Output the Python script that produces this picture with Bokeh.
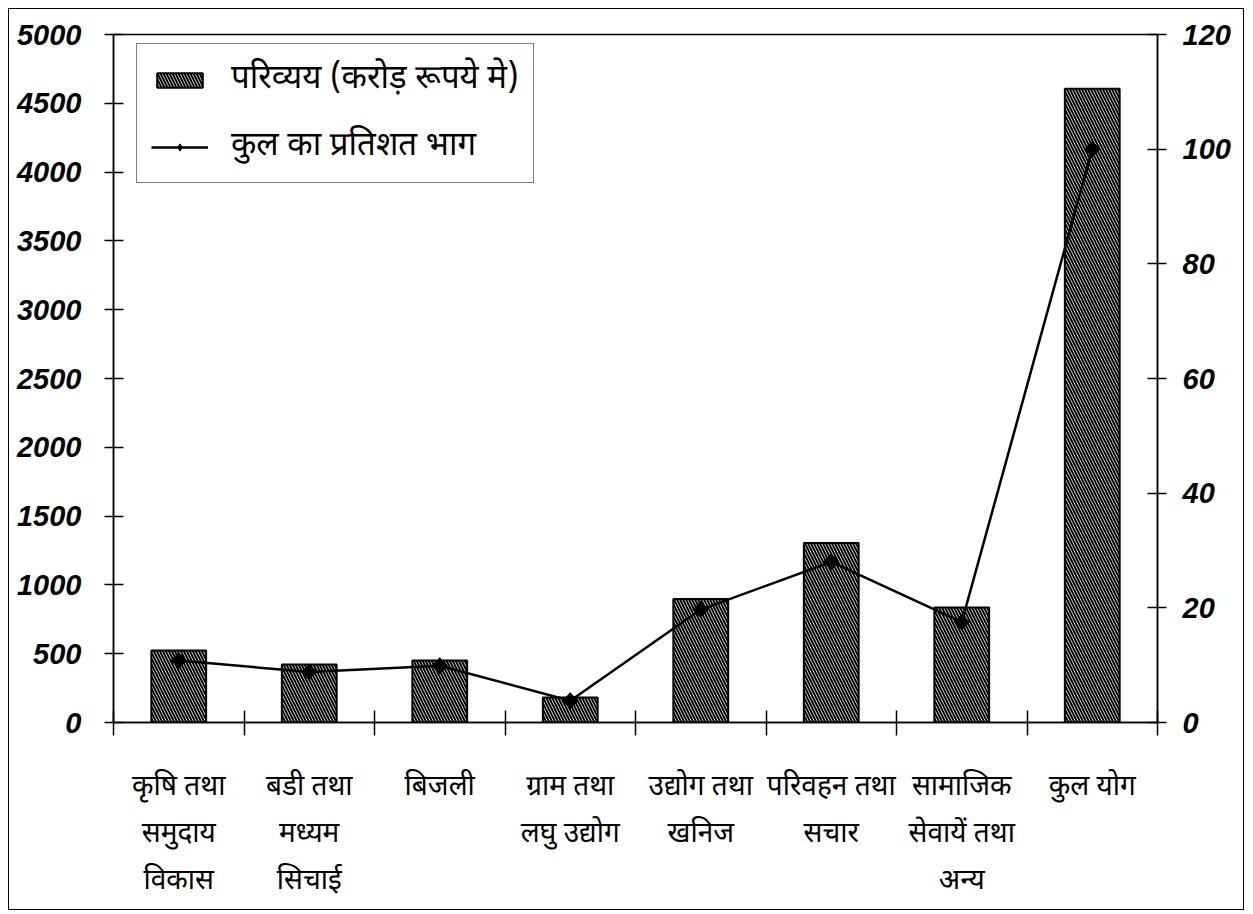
from bokeh.plotting import figure
from bokeh.models import Range1d, LinearAxis, FixedTicker, InlineStyleSheet
from bokeh.embed import file_html
from bokeh.resources import INLINE

# ---- data ----
categories = [
    "कृषि तथा\nसमुदाय\nविकास",
    "बडी तथा\nमध्यम\nसिचाई",
    "बिजली",
    "ग्राम तथा\nलघु उद्योग",
    "उद्योग तथा\nखनिज",
    "परिवहन तथा\nसचार",
    "सामाजिक\nसेवायें तथा\nअन्य",
    "कुल योग",
]
outlay = [523, 421, 450, 182, 898, 1305, 836, 4605]
percent = [10.8, 8.8, 9.9, 3.8, 19.7, 28.0, 17.5, 100.0]
left_ticks = [0, 500, 1000, 1500, 2000, 2500, 3000, 3500, 4000, 4500, 5000]
right_ticks = [0, 20, 40, 60, 80, 100, 120]
bar_label = "परिव्यय (करोड़ रूपये मे)"
line_label = "कुल का प्रतिशत भाग"

W, H = 1253, 914
BL, BR, BT, BB = 113, 96, 34, 192
frame_h = H - BT - BB
ymax = left_ticks[-1]
n = len(categories)
xs = [i + 0.5 for i in range(n)]
bounds = list(range(n + 1))

dev_font = "Noto Sans Devanagari, Lohit Devanagari, Noto Sans, sans-serif"
num_font = "Liberation Sans"

p = figure(width=W, height=H, output_backend="svg", toolbar_location=None,
           title=None,
           x_range=Range1d(0, n), y_range=Range1d(0, ymax),
           min_border_left=BL, min_border_right=BR,
           min_border_top=BT, min_border_bottom=BB)
p.extra_y_ranges = {"pct": Range1d(0, right_ticks[-1])}
p.xgrid.visible = False
p.ygrid.visible = False
p.outline_line_color = "black"
p.outline_line_width = 1.5
p.background_fill_color = "white"
p.border_fill_color = "white"

# outer border of the whole chart (drawn by CSS over the canvas)
p.stylesheets = [InlineStyleSheet(css="""
:host { position: relative; }
:host::after {
  content: ""; position: absolute; left: 8px; top: 8px; right: 9px; bottom: 4px;
  border: 1.5px solid black; pointer-events: none; z-index: 1000;
}
""")]

# bars
p.vbar(x=xs, top=outlay, width=0.42, bottom=0,
       fill_color="white", line_color="black", line_width=2,
       hatch_pattern="\\", hatch_color="black", hatch_scale=6,
       hatch_weight=2, legend_label=bar_label)

# line + markers
p.line(x=xs, y=percent, y_range_name="pct", line_color="black",
       line_width=2.5, legend_label=line_label)
p.scatter(x=xs, y=percent, y_range_name="pct", marker="square", angle=0.785,
          size=11, fill_color="black", line_color="black")
p.scatter(x=xs, y=percent, y_range_name="pct", marker="diamond",
          size=16, fill_color="black", line_color="black",
          legend_label=line_label)

def style_num_axis(ax, standoff):
    ax.axis_line_width = 1.5
    ax.major_tick_in = 10
    ax.major_tick_out = 9
    ax.major_tick_line_width = 1.5
    ax.minor_tick_line_color = None
    ax.major_label_standoff = standoff
    ax.major_label_text_font = num_font
    ax.major_label_text_font_style = "bold italic"
    ax.major_label_text_font_size = "29px"
    ax.major_label_text_color = "black"

ya = p.yaxis[0]
ya.ticker = FixedTicker(ticks=left_ticks)
style_num_axis(ya, 23)

ra = LinearAxis(y_range_name="pct", ticker=FixedTicker(ticks=right_ticks))
style_num_axis(ra, 16)
p.add_layout(ra, "right")

# bottom axis: labels at category centres, tick marks at category boundaries
xa = p.xaxis[0]
xa.ticker = FixedTicker(ticks=xs, minor_ticks=bounds)
xa.major_label_overrides = {x: c for x, c in zip(xs, categories)}
xa.axis_line_width = 1.5
xa.major_tick_line_color = None
xa.major_tick_in = 0
xa.major_tick_out = 0
xa.minor_tick_line_color = "black"
xa.minor_tick_line_width = 1.5
xa.minor_tick_in = 12
xa.minor_tick_out = 13
xa.major_label_standoff = 34
xa.major_label_text_font = dev_font
xa.major_label_text_font_size = "28px"
xa.major_label_text_line_height = 1.31
xa.major_label_text_color = "black"

# legend
lg = p.legend[0]
lg.location = (23, frame_h - 13 - 136)
lg.border_line_color = "black"
lg.border_line_width = 1.5
lg.background_fill_alpha = 1
lg.padding = 14
lg.spacing = 24
lg.glyph_width = 57
lg.glyph_height = 18
lg.label_height = 42
lg.label_standoff = 23
lg.label_text_font = dev_font
lg.label_text_font_size = "33px"
lg.label_text_color = "black"
lg.margin = 0

open("out.html", "w").write(file_html(p, INLINE))
